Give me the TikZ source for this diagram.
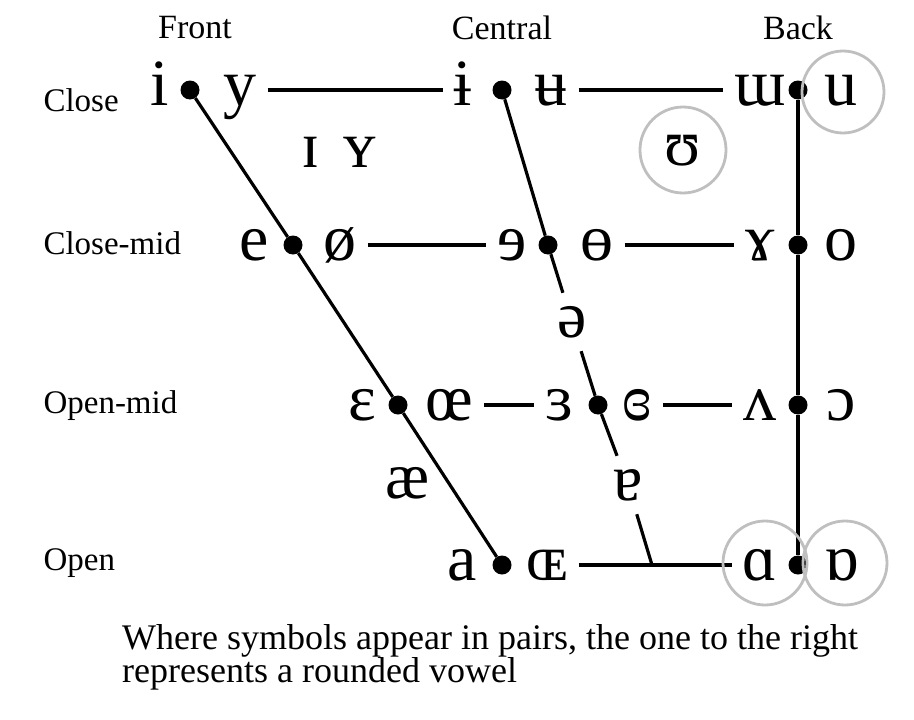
\documentclass[tikz,border=0pt]{standalone}
\usepackage{fontspec}
\setmainfont{Liberation Serif}
\newfontfamily\ipafont{Liberation Serif}
\usetikzlibrary{positioning}

\begin{document}
\begin{tikzpicture}[
  x=1pt, y=-1pt,
  sym/.style={font=\ipafont\fontsize{66}{66}\selectfont, text height=30pt,
              text depth=0pt, inner xsep=11pt, inner ysep=2pt},
  gapsym/.style={sym, inner ysep=14pt},
  dot/.style={circle, fill=black, inner sep=0pt, minimum size=19pt},
  hdr/.style={font=\fontsize{34}{34}\selectfont},
  row/.style={font=\fontsize{33}{33}\selectfont, anchor=west},
  ln/.style={line width=3.2pt},
  ring/.style={draw=black!25, line width=2.8pt},
]
  \useasboundingbox (0,0) rectangle (914,720);

  % column and row headings
  \node[hdr] (front) at (195,28) {Front};
  \node[hdr] (central) at (502,28) {Central};
  \node[hdr] (back) at (798,28) {Back};
  \node[row] (close) at (40,100) {Close};
  \node[row] (closemid) at (40,243) {Close-mid};
  \node[row] (openmid) at (40,406) {Open-mid};
  \node[row] (open) at (40,563) {Open};

  % dots
  \node[dot] (cf) at (190,90) {};
  \node[dot] (cc) at (502,90) {};
  \node[dot] (cb) at (798,90) {};
  \node[dot] (cmf) at (293,245) {};
  \node[dot] (cmc) at (548,245) {};
  \node[dot] (cmb) at (798,245) {};
  \node[dot] (omf) at (398,405) {};
  \node[dot] (omc) at (598,405) {};
  \node[dot] (omb) at (798,405) {};
  \node[dot] (of) at (502,565) {};
  \node[dot] (ob) at (798,565) {};
  \coordinate (oc) at (652,565);

  % close
  \node[sym] (i) at (160,90) {i};
  \node[sym] (y) at (240,90) {y};
  \node[sym] (ibar) at (463,90) {ɨ};
  \node[sym] (ubar) at (551,90) {ʉ};
  \node[sym] (turnm) at (760,90) {ɯ};
  \node[sym] (u) at (841,90) {u};
  \node[sym] (smallcapi) at (311,152) {ɪ};
  \node[sym] (smallcapy) at (360,152) {ʏ};
  \node[sym] (upsilon) at (683,150) {ʊ};
  % close-mid
  \node[sym] (e) at (254,245) {e};
  \node[sym] (oslash) at (340,245) {ø};
  \node[sym] (reve) at (512,245) {ɘ};
  \node[sym] (baro) at (597,245) {ɵ};
  \node[sym] (ramshorn) at (760,245) {ɤ};
  \node[sym] (o) at (841,245) {o};
  \node[gapsym] (schwa) at (572,322) {ə};
  % open-mid
  \node[sym] (eps) at (362,405) {ɛ};
  \node[sym] (oe) at (449,405) {œ};
  \node[sym] (reveps) at (559,405) {ɜ};
  \node[sym] (closedreveps) at (637,405) {ɞ};
  \node[sym] (turnv) at (760,405) {ʌ};
  \node[sym] (openo) at (841,405) {ɔ};
  \node[sym] (ash) at (408,483) {æ};
  \node[gapsym] (turna) at (628,485) {ɐ};
  % open
  \node[sym] (a) at (462,565) {a};
  \node[sym] (smallcapoe) at (547,565) {ɶ};
  \node[sym] (scripta) at (760,565) {ɑ};
  \node[sym] (turnscripta) at (842,565) {ɒ};

  % chart lines
  \draw[ln] (cf) -- (cmf) -- (omf) -- (of);
  \draw[ln] (cc) -- (cmc) -- (schwa) -- (omc) -- (turna) -- (oc);
  \draw[ln] (cb) -- (cmb) -- (omb) -- (ob);
  \draw[ln] (y) -- (ibar);
  \draw[ln] (ubar) -- (turnm);
  \draw[ln] (oslash) -- (reve);
  \draw[ln] (baro) -- (ramshorn);
  \draw[ln] (oe) -- (reveps);
  \draw[ln] (closedreveps) -- (turnv);
  \draw[ln] (smallcapoe) -- (scripta);

  % highlighted vowels
  \draw[ring] (843,92) circle[radius=41pt];
  \draw[ring] (683,150) circle[radius=43pt];
  \draw[ring] (765,563) circle[radius=42pt];
  \draw[ring] (845,563) circle[radius=42pt];

  \node[font=\fontsize{36}{24}\selectfont, align=left, anchor=north west,
        inner sep=0pt] (note) at (122,624)
    {Where symbols appear in pairs, the one to the right\\represents a rounded vowel};
\end{tikzpicture}
\end{document}
